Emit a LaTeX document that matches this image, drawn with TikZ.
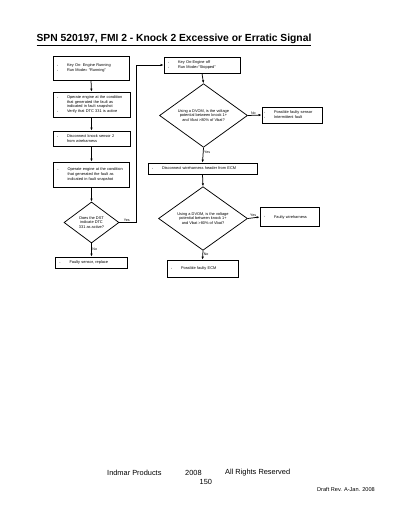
\documentclass[tikz,border=0pt]{standalone}
\usepackage{fontspec}
\setmainfont{Liberation Sans}
\usetikzlibrary{shapes.geometric,arrows.meta}
\newcommand{\bul}[1]{\noindent\makebox[10pt][l]{\raisebox{0.3pt}{\scalebox{0.6}{\textbullet}}}\parbox[t]{\dimexpr\linewidth-10pt\relax}{\raggedright\hyphenpenalty=10000 #1}\par}
\tikzset{
  box/.style={draw,line width=0.75pt,inner sep=1.5pt,align=left,font=\fontsize{3.9}{4.8}\selectfont,anchor=center},
  dia/.style={draw,line width=0.75pt,shape=diamond,inner sep=0pt,align=center,font=\fontsize{3.9}{4.8}\selectfont},
  conn/.style={line width=0.75pt,-{Latex[length=3pt,width=2.4pt]}},
  lbl/.style={font=\fontsize{3.6}{4.2}\selectfont,inner sep=0.6pt},
  foot/.style={font=\fontsize{7.4}{8.5}\selectfont,inner sep=0,anchor=west},
}
\begin{document}
\begin{tikzpicture}[x=1pt,y=-1pt]
\useasboundingbox[fill=white] (0,0) rectangle (400,516);
% title
\node[font=\bfseries\fontsize{10.3}{12}\selectfont,inner sep=0] (title) at (174,40) {\underline{SPN 520197, FMI 2 - Knock 2 Excessive or Erratic Signal}};
% left column
\node[box,minimum width=76,minimum height=24,text width=68] (b1) at (91,68) {\bul{Key On- Engine Running}\bul{Run Mode= ``Running''}};
\node[box,minimum width=77,minimum height=25,text width=69] (b2) at (91.5,104.5) {\bul{Operate engine at the condition\\that generated the fault as\\indicated in fault snapshot}\bul{Verify that DTC 331 is active}};
\node[box,minimum width=77,minimum height=15,text width=69] (b3) at (91.5,138.5) {\bul{Disconnect knock sensor 2\\from wireharness}};
\node[box,minimum width=76,minimum height=25,text width=68] (b4) at (91.5,174.5) {\bul{Operate engine at the condition\\that generated the fault as\\indicated in fault snapshot}};
\node[dia,minimum width=55,minimum height=41] (d1) at (91.5,222.5) {Does the DST\\indicate DTC\\331 as active?};
\node[box,minimum width=72,minimum height=11,text width=64] (b5) at (91.5,262.5) {\bul{Faulty sensor, replace}};
% right column
\node[box,minimum width=76,minimum height=16,text width=68] (r1) at (202,65) {\bul{Key On-Engine off}\bul{Run Mode=``Stopped''}};
\node[dia,minimum width=88,minimum height=55] (d2) at (203.5,115.5) {Using a DVOM, is the voltage\\potential between knock 1+\\and Vbat >80\% of Vbat?};
\node[box,minimum width=60,minimum height=16,text width=56] (r2) at (292,115) {\bul{Possible faulty sensor}\bul{Intermittent fault}};
\node[box,minimum width=109,minimum height=11,text width=101] (r3) at (202.5,168.5) {\bul{Disconnect wireharness header from ECM}};
\node[dia,minimum width=89,minimum height=57] (d3) at (203,218.5) {Using a DVOM, is the voltage\\potential between knock 1+\\and Vbat >80\% of Vbat?};
\node[box,minimum width=59,minimum height=19,text width=51] (r4) at (289.5,217) {\bul{Faulty wireharness}};
\node[box,minimum width=71,minimum height=17,text width=63] (r5) at (202.5,268.5) {\bul{Possible faulty ECM}};
% connectors left
\draw[conn] (b1.south) -- (b2.north);
\draw[conn] (b2.south) -- (b3.north);
\draw[conn] (b3.south) -- (b4.north);
\draw[conn] (b4.south) -- (d1.north);
\draw[conn] (d1.south) -- node[lbl,right,pos=0.45] {No} (b5.north);
\coordinate (yb) at (136,222.5);
\coordinate (yt) at (136,65);
\draw[conn] (d1.east) -- node[lbl,above,pos=0.45] {Yes} (yb) -- (yt) -- (r1.west);
% connectors right
\draw[conn] (r1.south) -- (d2.north);
\draw[conn] (d2.east) -- node[lbl,above,pos=0.4] {No} (r2.west);
\draw[conn] (d2.south) -- node[lbl,right,pos=0.3] {Yes} (r3.north);
\draw[conn] (r3.south) -- (d3.north);
\draw[conn] (d3.east) -- node[lbl,above,pos=0.45] {Yes} (r4.west);
\draw[conn] (d3.south) -- node[lbl,right,pos=0.45] {No} (r5.north);
% footer
\node[foot] (f1) at (107,473) {Indmar Products};
\node[foot] (f2) at (185,473) {2008};
\node[foot] (f3) at (225,473) {All Rights Reserved};
\node[foot] (f4) at (199.5,481.5) {150};
\node[font=\fontsize{5.6}{6.5}\selectfont,inner sep=0,anchor=west] (f5) at (317,489.5) {Draft Rev. A-Jan. 2008};
\end{tikzpicture}
\end{document}
